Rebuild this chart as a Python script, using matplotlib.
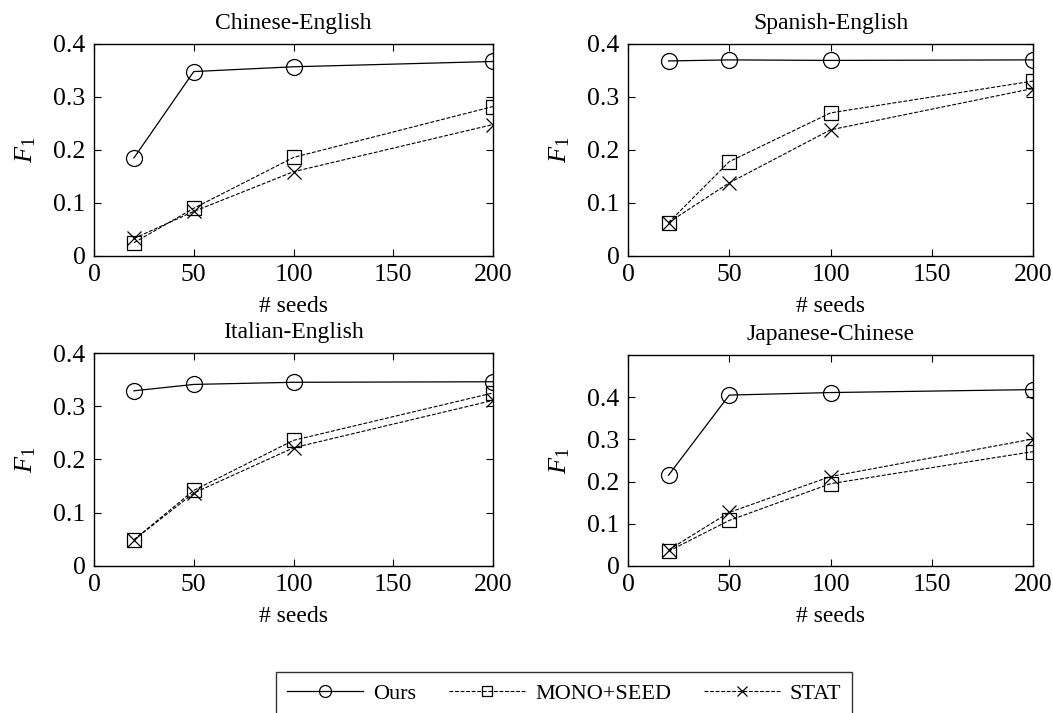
import numpy as np
import matplotlib
matplotlib.use('Agg')
import matplotlib.pyplot as plt

plt.rcParams['font.family'] = 'Liberation Serif'
plt.rcParams['mathtext.fontset'] = 'custom'
plt.rcParams['mathtext.it'] = 'Liberation Serif:italic'
plt.rcParams['mathtext.rm'] = 'Liberation Serif'

# Data
seeds = [20, 50, 100, 200]
titles = ['Chinese-English', 'Spanish-English', 'Italian-English', 'Japanese-Chinese']
ours = [
    [0.185, 0.348, 0.357, 0.367],
    [0.368, 0.370, 0.369, 0.370],
    [0.329, 0.341, 0.345, 0.346],
    [0.215, 0.405, 0.411, 0.418],
]
mono_seed = [
    [0.025, 0.090, 0.186, 0.282],
    [0.063, 0.178, 0.270, 0.330],
    [0.049, 0.142, 0.236, 0.325],
    [0.035, 0.108, 0.195, 0.271],
]
stat = [
    [0.033, 0.084, 0.159, 0.248],
    [0.063, 0.138, 0.238, 0.316],
    [0.049, 0.137, 0.222, 0.311],
    [0.038, 0.127, 0.212, 0.301],
]
ymax = [0.4, 0.4, 0.4, 0.5]

fig = plt.figure(figsize=(10.53, 7.13), dpi=100)
positions = [
    [0.0893, 0.6410, 0.3789, 0.2973],
    [0.5964, 0.6410, 0.3846, 0.2973],
    [0.0893, 0.2062, 0.3789, 0.2987],
    [0.5964, 0.2062, 0.3846, 0.2959],
]
dash = (0, (3.5, 1.5))

for i in range(4):
    ax = fig.add_axes(positions[i])
    l1, = ax.plot(seeds, ours[i], color='black', lw=0.9, marker='o', ms=11.5,
                  mfc='none', mew=0.9, label='Ours')
    l2, = ax.plot(seeds, mono_seed[i], color='black', lw=0.8, ls=dash, marker='s', ms=9.5,
                  mfc='none', mew=0.9, label='MONO+SEED')
    l3, = ax.plot(seeds, stat[i], color='black', lw=0.8, ls=dash, marker='x', ms=9.5,
                  mew=0.9, label='STAT')
    ax.set_xlim(0, 200)
    ax.set_ylim(0, ymax[i])
    ax.set_xticks([0, 50, 100, 150, 200])
    ax.set_yticks([0, 0.1, 0.2, 0.3, 0.4])
    ax.set_yticklabels(['0', '0.1', '0.2', '0.3', '0.4'])
    ax.tick_params(direction='in', top=True, right=True, length=5, width=0.8,
                   labelsize=18.5, pad=6)
    for s in ax.spines.values():
        s.set_linewidth(1.0)
    ax.set_title(titles[i], fontsize=17, pad=11)
    ax.set_xlabel('# seeds', fontsize=17, labelpad=7)
    ax.set_ylabel('$F_1$', fontsize=19, labelpad=11)

leg = fig.legend([l1, l2, l3], ['Ours', 'MONO+SEED', 'STAT'], loc='upper center',
                 bbox_to_anchor=(0.536, 0.0575), ncol=3, fontsize=16,
                 frameon=True, fancybox=False, edgecolor='black',
                 handlelength=3.4, handletextpad=0.45, columnspacing=1.5,
                 markerscale=0.75, borderpad=0.5, borderaxespad=0)
leg.get_frame().set_linewidth(1.0)

fig.savefig('out.png', dpi=100)
